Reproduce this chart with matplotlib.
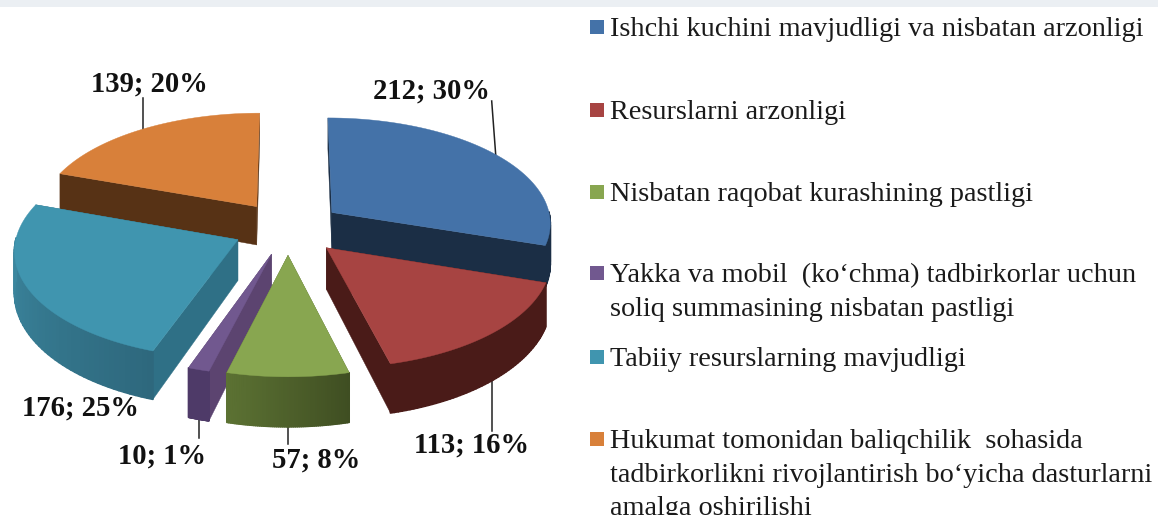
#!/usr/bin/env python3

import matplotlib
matplotlib.use("Agg")
import matplotlib.pyplot as plt
from matplotlib.colors import to_rgb
from matplotlib.patches import Rectangle
import numpy as np

values = [212, 113, 57, 10, 176, 139]
percents = [30, 16, 8, 1, 25, 20]
legendText = [
    "Ishchi kuchini mavjudligi va nisbatan arzonligi",
    "Resurslarni arzonligi",
    "Nisbatan raqobat kurashining pastligi",
    "Yakka va mobil  (ko\u2018chma) tadbirkorlar uchun\nsoliq summasining nisbatan pastligi",
    "Tabiiy resurslarning mavjudligi",
    "Hukumat tomonidan baliqchilik  sohasida\ntadbirkorlikni rivojlantirish bo\u2018yicha dasturlarni\namalga oshirilishi",
]

topColors = ["#4472A8", "#A74442", "#88A650", "#71588F", "#4095AF", "#D8803A"]
cutColors = ["#1B2E45", "#4A1B18", "#55692F", "#5C4470", "#2F7086", "#573215"]
sideStart = ["#1B2E45", "#4A1B18", "#5C7233", "#4E3A68", "#3F8FA8", "#573215"]
sideEnd = ["#1B2E45", "#4A1B18", "#3F4E22", "#4E3A68", "#2E687D", "#573215"]

drawOrder = [5, 0, 4, 1, 3, 2]
labelPos = [(431, 91), (472, 445), (316, 460), (162, 456), (80, 408), (149, 84)]
legendY = [27, 110, 192, 273, 357, 439]
hasLeader = [True, True, True, True, False, True]
leaderTopY = [101, 431, 444, 438, None, 98]
leaderDx = [-4, 0, 0, 0, 0, 0]

# pie geometry, in pixels
cx, cy = 288, 228
rx, ry = 220, 107
depth = 40
persp = 0.09
depthPersp = 0.2
explode = 0.25


def project(u, v, z=0):
    s = 1 + persp * v
    return cx + rx * u * s, cy + ry * v * s + depth * z * (1 + depthPersp * v)


def rim(theta, ex, ev, z=0):
    return project(ex + np.sin(theta), ev - np.cos(theta), z)


fig = plt.figure(figsize=(11.58, 5.15), dpi=100)
ax = fig.add_axes([0, 0, 1, 1])
ax.set_xlim(0, 1158)
ax.set_ylim(515, 0)
ax.axis("off")
ax.add_patch(Rectangle((0, 0), 1158, 7, color="#EBEFF3", lw=0))

edges = np.radians(np.concatenate([[0], np.cumsum(values)]) / np.sum(values) * 360)

for i in drawOrder:
    a0, a1 = edges[i], edges[i + 1]
    mid = (a0 + a1) / 2
    ex, ev = explode * np.sin(mid), -explode * np.cos(mid)
    thetas = np.linspace(a0, a1, 60)
    zo = 2 + drawOrder.index(i) * 0.1

    # leader goes under the slice
    if hasLeader[i]:
        zLead = 1 if np.cos(mid) < 0 else 0
        lx, ly = rim(mid, ex, ev, zLead)
        ax.plot([lx, lx + leaderDx[i]], [ly, leaderTopY[i]], color="#222222", lw=1.1, zorder=1)

    # radial walls
    apexTop = project(ex, ev, 0)
    apexBot = project(ex, ev, 1)
    for a in (a0, a1):
        pTop = rim(a, ex, ev, 0)
        pBot = rim(a, ex, ev, 1)
        ax.fill([apexTop[0], pTop[0], pBot[0], apexBot[0]],
                [apexTop[1], pTop[1], pBot[1], apexBot[1]],
                color=cutColors[i], lw=0.3, zorder=zo)

    # outer wall, strip by strip for the gradient
    c0, c1 = np.array(to_rgb(sideStart[i])), np.array(to_rgb(sideEnd[i]))
    for k in range(len(thetas) - 1):
        t0, t1 = thetas[k], thetas[k + 1]
        if np.cos((t0 + t1) / 2) > 0.02:
            continue
        # gradient runs left to right over the slice
        f = (k + 0.5) / (len(thetas) - 1)
        if np.sin(mid) < 0.2:
            f = 1 - f
        p = [rim(t0, ex, ev, 0), rim(t1, ex, ev, 0), rim(t1, ex, ev, 1), rim(t0, ex, ev, 1)]
        ax.fill([q[0] for q in p], [q[1] for q in p], color=c0 + (c1 - c0) * f, lw=1.2,
                joinstyle="round", zorder=zo)

    # top face
    xs, ys = rim(thetas, ex, ev, 0)
    ax.fill(np.r_[apexTop[0], xs], np.r_[apexTop[1], ys], color=topColors[i], lw=0.3, zorder=zo)

for i in range(len(values)):
    ax.text(labelPos[i][0], labelPos[i][1], "%d; %d%%" % (values[i], percents[i]),
            family="Liberation Serif", weight="bold", fontsize=20.6, color="#111111",
            ha="center", va="center", zorder=5)

for i in range(len(legendText)):
    ax.add_patch(Rectangle((590, legendY[i] - 7), 14, 14, color=topColors[i], lw=0))
    ax.text(610, legendY[i] - 10, legendText[i], family="Liberation Serif", fontsize=20.3,
            color="#1A1A1A", ha="left", va="top", linespacing=1.45, zorder=5)

fig.savefig("out.png", dpi=100)
